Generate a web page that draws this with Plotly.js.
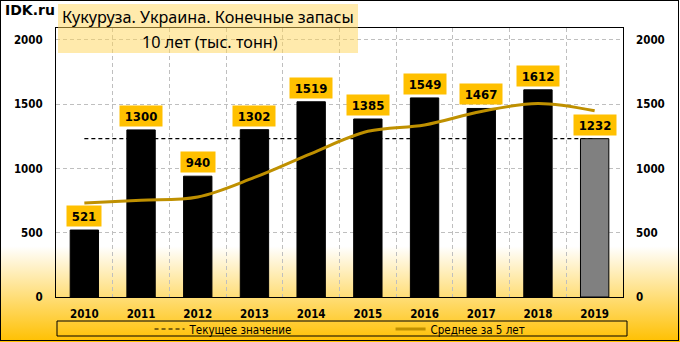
<!DOCTYPE html>
<html>
<head>
<meta charset="utf-8">
<script src="https://cdn.plot.ly/plotly-3.0.1.min.js"></script>
<style>
  html, body { margin: 0; padding: 0; }
  #wrap { position: relative; width: 680px; height: 342px;
    background: linear-gradient(to bottom, #ffffff 0%, #ffffff 72%, #ffc000 100%); }
  #chart { position: absolute; left: 0; top: 0; width: 680px; height: 342px; }
  #frame { position: absolute; left: 0; top: 0; width: 679px; height: 341px;
    box-sizing: border-box; border: 1px solid #000; pointer-events: none; }
</style>
</head>
<body>
<div id="wrap"><div id="chart"></div><div id="frame"></div></div>
<script>
const years = ["2010","2011","2012","2013","2014","2015","2016","2017","2018","2019"];
const stocks = [521, 1300, 940, 1302, 1519, 1385, 1549, 1467, 1612, 1232];
const avg5 = [731, 752, 778, 930, 1116, 1289, 1339, 1444, 1506, 1449];
const yTicks = [0, 500, 1000, 1500, 2000];
const titleLine1 = "Кукуруза. Украина. Конечные запасы";
const titleLine2 = "10 лет (тыс. тонн)";
const legendCurrent = "Текущее значение";
const legendAvg = "Среднее за 5 лет";
const brand = "IDK.ru";

const current = stocks[stocks.length - 1];
const currentLine = years.map(() => current);
const barColors = stocks.map((v, i) => i === stocks.length - 1 ? "#808080" : "#000000");

const yRange = [0, 2093];
const tickFont = {family: "DejaVu Sans Condensed, DejaVu Sans", size: 11.5, color: "#000", weight: "bold"};
const lblFont = {family: "DejaVu Sans Condensed, DejaVu Sans", size: 13, color: "#000", weight: "bold"};

const traces = [
  {type: "scatter", mode: "lines", x: years, y: currentLine, xaxis: "x", yaxis: "y",
   name: legendCurrent, line: {color: "#000", width: 1.2, dash: "4px,3px"}, hoverinfo: "skip"},
  {type: "bar", x: years, y: stocks, xaxis: "x", yaxis: "y2", width: 0.5,
   marker: {color: barColors, line: {color: "#000", width: 1}}, showlegend: false},
  {type: "scatter", mode: "lines", x: years, y: avg5, xaxis: "x", yaxis: "y2",
   name: legendAvg, line: {color: "#BF9000", width: 3, shape: "spline", smoothing: 1}}
];

const annotations = stocks.map((v, i) => ({
  x: i, y: v, xref: "x", yref: "y2", text: String(v), showarrow: false,
  yanchor: "bottom", yshift: 3, font: lblFont, bgcolor: "#FFC000",
  width: String(v).length * 8 + 6, height: 16, borderpad: 2
}));
annotations.push(
  {xref: "paper", yref: "paper", x: -0.0935, y: 1.067, xanchor: "left", yanchor: "middle",
   text: brand, showarrow: false, font: {family: "DejaVu Sans", size: 14, color: "#000", weight: "bold"}},
  {xref: "paper", yref: "paper", x: (208 - 56) / 567, y: (297 - 17) / 269, xanchor: "center", yanchor: "middle",
   text: titleLine1, showarrow: false, font: {family: "Noto Sans", size: 16.2, color: "#000"}},
  {xref: "paper", yref: "paper", x: (210 - 56) / 567, y: (297 - 42) / 269, xanchor: "center", yanchor: "middle",
   text: titleLine2, showarrow: false, font: {family: "Noto Sans", size: 16.2, color: "#000"}}
);

const layout = {
  width: 680, height: 342,
  margin: {l: 56, r: 57, t: 28, b: 45, autoexpand: false},
  paper_bgcolor: "rgba(0,0,0,0)", plot_bgcolor: "rgba(0,0,0,0)",
  showlegend: true,
  legend: {orientation: "h", x: 0.165, xanchor: "left", y: -0.119, yanchor: "middle",
           entrywidth: 196, entrywidthmode: "pixels",
           font: {family: "DejaVu Sans Condensed, DejaVu Sans", size: 11.5, color: "#000"},
           bgcolor: "rgba(0,0,0,0)", borderwidth: 0},
  xaxis: {type: "category", categoryorder: "array", categoryarray: years, range: [-0.5, years.length - 0.5],
          tickson: "boundaries", showgrid: true, gridcolor: "#BFBFBF",
          griddash: "4px,3px", gridwidth: 1, showline: true, linecolor: "#000", linewidth: 1,
          mirror: true, ticks: "", tickfont: tickFont, ticklabelstandoff: 6, zeroline: false},
  yaxis: {range: yRange, tickvals: yTicks, showgrid: true, gridcolor: "#BFBFBF",
          griddash: "4px,3px", gridwidth: 1, showline: true, linecolor: "#000", linewidth: 1,
          mirror: true, ticks: "", tickfont: tickFont, ticklabelstandoff: 10, zeroline: false},
  yaxis2: {range: yRange, tickvals: yTicks, overlaying: "y", anchor: "x", side: "right", showgrid: false,
           showline: false, ticks: "", tickfont: tickFont, ticklabelstandoff: 12, zeroline: false},
  shapes: [
    {type: "rect", xref: "paper", yref: "paper", layer: "above",
     x0: (58 - 56) / 567, x1: (358 - 56) / 567, y0: (297 - 53) / 269, y1: (297 - 4) / 269,
     fillcolor: "rgba(255,214,90,0.5)", line: {width: 0}},
    {type: "rect", xref: "paper", yref: "paper", layer: "above",
     x0: (57 - 56) / 567, x1: (627 - 56) / 567, y0: (297 - 336) / 269, y1: (297 - 321) / 269,
     fillcolor: "rgba(0,0,0,0)", line: {color: "#000", width: 1}}
  ],
  annotations: annotations
};

Plotly.newPlot("chart", traces, layout, {displayModeBar: false, staticPlot: true});
</script>
</body>
</html>
